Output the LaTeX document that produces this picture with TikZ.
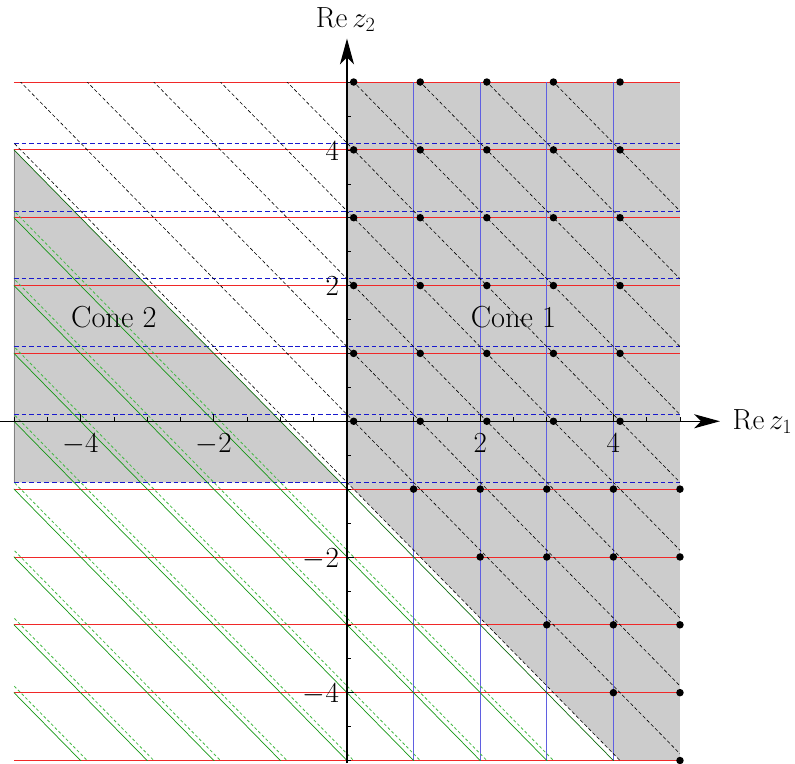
\documentclass[tikz,border=0pt]{standalone}
\usepackage{tikz}
\usetikzlibrary{arrows.meta}

\definecolor{conegray}{gray}{0.8}
\definecolor{polered}{RGB}{240,40,40}
\definecolor{poleblue}{RGB}{95,95,225}
\definecolor{shiftblue}{RGB}{25,25,205}
\definecolor{polegreen}{RGB}{20,150,20}
\definecolor{shiftgreen}{RGB}{70,185,70}

\begin{document}
\begin{tikzpicture}[x=2cm, y=2.0375cm, font=\fontsize{26}{30}\selectfont]
    \tikzstyle{redpole} = [draw=polered, line width=0.75pt]
    \tikzstyle{bluepole} = [draw=poleblue, line width=0.6pt]
    \tikzstyle{bluedash} = [draw=shiftblue, line width=0.7pt, dash pattern=on 4pt off 2.5pt]
    \tikzstyle{greenpole} = [draw=polegreen, line width=0.6pt]
    \tikzstyle{greendash} = [draw=shiftgreen, line width=0.7pt, dash pattern=on 2.5pt off 2pt]
    \tikzstyle{blackdash} = [draw=black, line width=0.5pt, dash pattern=on 3pt off 2pt]
    \tikzstyle{axisline} = [draw=black, line width=1pt, -{Stealth[length=22pt, width=12pt, inset=6pt]}]
    \useasboundingbox (-5.21,-5.037) rectangle (6.727,6.209);
    %% cones
    \fill[conegray] (0,5) -- (5,5) -- (5,-5) -- (4.1,-5) -- (0,-0.9) -- cycle;
    \fill[conegray] (-5,4) -- (-0.1,-0.9) -- (-5,-0.9) -- cycle;
    \draw[gray, line width=0.6pt] (-5,4) -- (-5,-0.9);
    %% pole lines
    \begin{scope}
    \clip (-5,-5) rectangle (5,5);
    \foreach \y in {-5,...,-1,1,2,3,4,5}
        \draw[redpole] (-5,\y) -- (5,\y);
    \foreach \x in {1,...,5}
        \draw[bluepole] (\x,-5) -- (\x,5);
    \foreach \y in {-0.9,0.1,1.1,2.1,3.1,4.1}
        \draw[bluedash] (-5,\y) -- (5,\y);
    \foreach \c in {-9,...,-2} {
        \draw[greenpole] ({\c-10},10) -- (10,{\c-10});
        \draw[greendash] ({\c+0.1-10},10) -- (10,{\c+0.1-10});
    }
    \draw[greenpole, draw=polegreen!70!black] (-11,10) -- (10,-11);
    \foreach \n in {-1,...,8}
        \draw[blackdash] ({\n+0.1-10},10) -- (10,{\n+0.1-10});
    \end{scope}
    %% residue points
    \foreach \i in {0,...,4}
        \foreach \j in {0,...,5}
            \fill (\i+0.1,\j) circle (3.2pt);
    \foreach \j in {1,...,5}
        \foreach \i in {\j,...,5}
            \fill (\i,-\j) circle (3.2pt);
    %% axes
    \coordinate (xs) at (-5.21,0);
    \coordinate (xe) at (5.6,0);
    \coordinate (ys) at (0,-5.037);
    \coordinate (ye) at (0,5.64);
    \draw[axisline] (xs) -- (xe);
    \draw[axisline] (ys) -- (ye);
    \foreach \t in {-5,-4.5,...,5} {
        \draw[line width=0.5pt] (\t,0) -- (\t,0.06);
        \draw[line width=0.5pt] (0,\t) -- (0.06,\t);
    }
    \foreach \t in {-4,-2,2,4} {
        \draw[line width=0.5pt] (\t,0) -- (\t,0.1);
        \draw[line width=0.5pt] (0,\t) -- (0.1,\t);
    }
    \node (xl) at (5.73,-0.12) [anchor=base west] {$\mathrm{Re}\,z_1$};
    \node (yl) at (-0.02,5.81) [anchor=base] {$\mathrm{Re}\,z_2$};
    \node (xm4) at (-4,-0.455) [anchor=base] {$-4$};
    \node (xm2) at (-2,-0.455) [anchor=base] {$-2$};
    \node (xp2) at (2,-0.455) [anchor=base] {$2$};
    \node (xp4) at (4,-0.455) [anchor=base] {$4$};
    \node (yp4) at (-0.06,3.85) [anchor=base east] {$4$};
    \node (yp2) at (-0.06,1.85) [anchor=base east] {$2$};
    \node (ym2) at (-0.06,-2.15) [anchor=base east] {$-2$};
    \node (ym4) at (-0.06,-4.15) [anchor=base east] {$-4$};
    %% cone labels
    \node (cone1) at (2.5,1.53) {Cone 1};
    \node (cone2) at (-3.5,1.53) {Cone 2};
\end{tikzpicture}
\end{document}
